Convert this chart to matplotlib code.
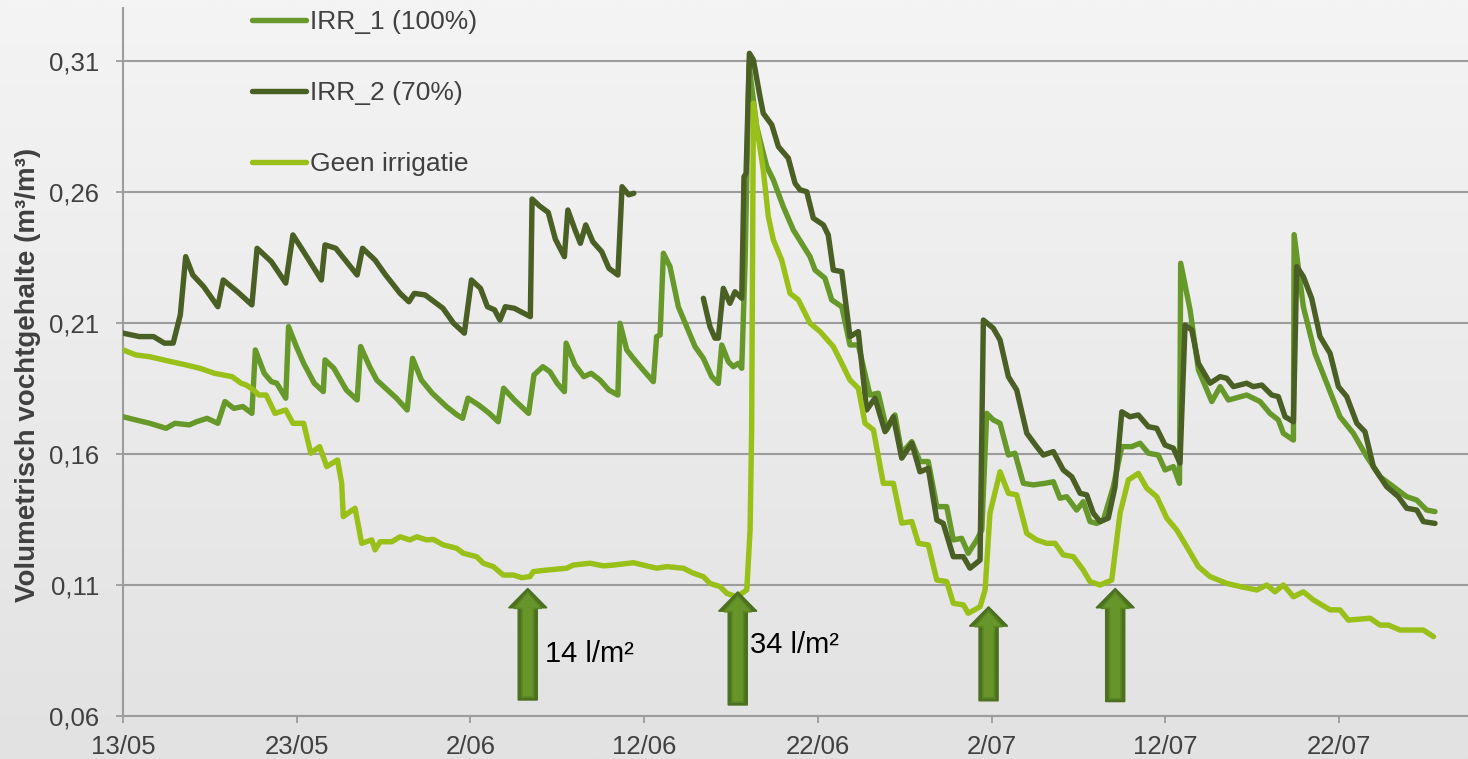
import numpy as np
import matplotlib
matplotlib.use('Agg')
import matplotlib.pyplot as plt
from matplotlib.lines import Line2D
from matplotlib.patches import Polygon

plt.rcParams['font.family'] = ['Liberation Sans', 'DejaVu Sans']

# days since 13/05
tick_days = [0, 10, 20, 30, 40, 50, 60, 70]
tick_labels = ['13/05', '23/05', '2/06', '12/06', '22/06', '2/07', '12/07', '22/07']
y_ticks = [0.06, 0.11, 0.16, 0.21, 0.26, 0.31]

irr1_day = [0.01, 0.73, 1.55, 2.48, 2.99, 3.82, 4.23, 4.84, 5.46, 5.87, 6.38, 6.90, 7.42, 7.62,
            8.13, 8.54, 8.85, 9.37, 9.53, 9.98, 10.40, 11.01, 11.53, 11.63, 12.14, 12.86, 13.48,
            13.68, 14.20, 14.61, 15.12, 15.74, 16.36, 16.67, 17.18, 17.80, 18.62, 19.23, 19.55,
            19.86, 20.47, 21.09, 21.60, 21.91, 22.53, 23.35, 23.66, 24.17, 24.58, 24.99, 25.41,
            25.51, 26.02, 26.53, 26.95, 27.46, 27.97, 28.49, 28.61, 29.00, 29.38, 29.86, 30.53,
            30.72, 30.92, 31.11, 31.49, 31.97, 32.45, 32.93, 33.41, 33.89, 34.27, 34.47, 34.85,
            35.14, 35.42, 35.62, 35.81, 36.04, 36.48, 36.67, 37.06, 37.44, 38.01, 38.59, 39.07,
            39.55, 39.84, 40.41, 40.80, 41.38, 41.85, 42.33, 43.00, 43.48, 43.97, 44.44, 44.83,
            45.41, 45.88, 46.36, 46.85, 47.42, 47.80, 48.28, 48.66, 49.15, 49.44, 49.72, 50.10,
            50.49, 50.97, 51.35, 51.83, 52.41, 53.08, 53.56, 53.94, 54.33, 54.90, 55.28, 55.67,
            56.06, 56.44, 57.01, 57.50, 58.07, 58.55, 59.03, 59.60, 59.99, 60.47, 60.82, 60.89,
            61.43, 61.91, 62.68, 63.16, 63.64, 64.69, 65.46, 66.03, 66.51, 66.80, 67.38, 67.42,
            67.95, 68.62, 69.30, 70.06, 70.83, 71.60, 72.37, 73.13, 73.90, 74.48, 75.05, 75.53]
irr1_val = [0.1742, 0.1730, 0.1717, 0.1698, 0.1717, 0.1711, 0.1723, 0.1736, 0.1717, 0.1800, 0.1774,
            0.1781, 0.1755, 0.1997, 0.1908, 0.1876, 0.1870, 0.1813, 0.2086, 0.2010, 0.1946, 0.1870,
            0.1838, 0.1959, 0.1927, 0.1844, 0.1806, 0.2010, 0.1933, 0.1882, 0.1851, 0.1813, 0.1768,
            0.1965, 0.1882, 0.1832, 0.1781, 0.1749, 0.1736, 0.1813, 0.1787, 0.1755, 0.1723, 0.1851,
            0.1806, 0.1755, 0.1902, 0.1933, 0.1914, 0.1870, 0.1838, 0.2023, 0.1940, 0.1895, 0.1908,
            0.1882, 0.1844, 0.1825, 0.2099, 0.1997, 0.1965, 0.1927, 0.1876, 0.2048, 0.2054, 0.2366,
            0.2315, 0.2162, 0.2086, 0.2010, 0.1965, 0.1895, 0.1869, 0.2016, 0.1952, 0.1933, 0.1946,
            0.1927, 0.2328, 0.3085, 0.2849, 0.2798, 0.2697, 0.2646, 0.2544, 0.2455, 0.2404, 0.2353,
            0.2302, 0.2271, 0.2188, 0.2162, 0.2016, 0.2016, 0.1825, 0.1832, 0.1692, 0.1749, 0.1603,
            0.1647, 0.1571, 0.1571, 0.1399, 0.1399, 0.1272, 0.1278, 0.1221, 0.1272, 0.1310, 0.1755,
            0.1730, 0.1717, 0.1596, 0.1603, 0.1488, 0.1482, 0.1488, 0.1494, 0.1431, 0.1437, 0.1386,
            0.1418, 0.1342, 0.1335, 0.1348, 0.1475, 0.1628, 0.1628, 0.1641, 0.1603, 0.1596, 0.1539,
            0.1552, 0.1488, 0.2328, 0.2150, 0.1921, 0.1800, 0.1857, 0.1806, 0.1825, 0.1800, 0.1755,
            0.1730, 0.1679, 0.1653, 0.2437, 0.2162, 0.1984, 0.1870, 0.1742, 0.1679, 0.1590, 0.1513,
            0.1475, 0.1437, 0.1424, 0.1386, 0.1380]

irr2_day = [0.01, 0.94, 1.76, 2.38, 2.89, 3.30, 3.61, 4.02, 4.64, 5.46, 5.77, 6.59, 7.42, 7.72,
            8.54, 9.37, 9.78, 10.40, 11.42, 11.63, 12.25, 13.48, 13.79, 14.51, 15.12, 15.95, 16.46,
            16.77, 17.39, 18.42, 19.03, 19.65, 20.06, 20.58, 20.98, 21.39, 21.70, 22.01, 22.53,
            23.45, 23.55, 23.97, 24.48, 24.89, 25.41, 25.61, 26.02, 26.33, 26.64, 27.05, 27.56,
            27.97, 28.49, 28.73, 29.11, 29.41, 31.0,
            33.41, 33.79, 34.08, 34.27, 34.56, 34.94, 35.23, 35.62, 35.75, 35.87, 36.06, 36.29,
            36.67, 36.86, 37.35, 37.73, 38.30, 38.69, 38.98, 39.36, 39.74, 40.32, 40.60, 40.89,
            41.38, 41.85, 42.33, 42.81, 43.29, 43.87, 44.35, 44.83, 45.41, 45.88, 46.36, 46.85,
            47.22, 47.80, 48.38, 48.76, 49.34, 49.53, 50.10, 50.49, 50.97, 51.45, 52.03, 52.60,
            52.98, 53.56, 54.13, 54.62, 55.10, 55.48, 55.86, 56.25, 56.72, 57.11, 57.50, 57.97,
            58.45, 59.03, 59.51, 59.99, 60.47, 60.85, 61.14, 61.53, 61.91, 62.58, 63.16, 63.54,
            63.92, 64.69, 65.07, 65.56, 66.13, 66.51, 66.90, 67.38, 67.57, 67.95, 68.43, 68.91,
            69.49, 69.97, 70.45, 71.03, 71.50, 71.98, 72.75, 73.42, 73.90, 74.48, 74.86, 75.53]
irr2_val = [0.2061, 0.2048, 0.2048, 0.2023, 0.2023, 0.2131, 0.2353, 0.2283, 0.2239, 0.2162, 0.2264,
            0.2219, 0.2169, 0.2385, 0.2334, 0.2252, 0.2436, 0.2372, 0.2264, 0.2398, 0.2385, 0.2283,
            0.2385, 0.2340, 0.2283, 0.2213, 0.2181, 0.2213, 0.2207, 0.2156, 0.2099, 0.2061, 0.2264,
            0.2232, 0.2162, 0.2150, 0.2111, 0.2162, 0.2156, 0.2124, 0.2573, 0.2547, 0.2522, 0.2420,
            0.2353, 0.2531, 0.2456, 0.2404, 0.2474, 0.2410, 0.2372, 0.2309, 0.2283, 0.2620, 0.2589,
            0.2595, np.nan,
            0.2194, 0.2086, 0.2042, 0.2042, 0.2232, 0.2175, 0.2219, 0.2194, 0.2658, 0.2671, 0.3129,
            0.3104, 0.2964, 0.2900, 0.2856, 0.2773, 0.2729, 0.2633, 0.2608, 0.2601, 0.2500, 0.2474,
            0.2436, 0.2302, 0.2296, 0.2048, 0.2067, 0.1768, 0.1813, 0.1685, 0.1742, 0.1584, 0.1641,
            0.1532, 0.1545, 0.1348, 0.1335, 0.1208, 0.1208, 0.1164, 0.1195, 0.2111, 0.2080, 0.2035,
            0.1895, 0.1844, 0.1679, 0.1628, 0.1596, 0.1609, 0.1539, 0.1513, 0.1450, 0.1444, 0.1374,
            0.1342, 0.1355, 0.1475, 0.1761, 0.1742, 0.1749, 0.1704, 0.1698, 0.1634, 0.1622, 0.1565,
            0.2092, 0.2073, 0.1946, 0.1870, 0.1895, 0.1889, 0.1857, 0.1870, 0.1857, 0.1863, 0.1825,
            0.1819, 0.1742, 0.1723, 0.2315, 0.2277, 0.2194, 0.2048, 0.1984, 0.1857, 0.1819, 0.1717,
            0.1685, 0.1552, 0.1475, 0.1437, 0.1393, 0.1386, 0.1342, 0.1335]

geen_day = [0.01, 0.73, 1.55, 2.79, 3.61, 4.43, 5.26, 6.28, 6.80, 7.10, 7.52, 7.82, 8.24, 8.75,
            9.37, 9.78, 10.40, 10.81, 11.32, 11.73, 12.35, 12.59, 12.68, 13.36, 13.74, 14.32,
            14.51, 14.80, 15.47, 15.95, 16.52, 16.91, 17.48, 17.86, 18.44, 19.21, 19.59, 20.36,
            20.74, 21.32, 21.89, 22.47, 22.95, 23.43, 23.62, 24.39, 25.54, 25.92, 26.89, 27.65,
            28.23, 29.38, 29.95, 30.72, 31.30, 32.26, 32.83, 33.41, 33.79, 34.37, 34.76, 35.33,
            35.91, 36.10, 36.19, 36.29, 36.48, 36.86, 37.15, 37.44, 37.92, 38.40, 38.88, 39.55,
            40.13, 40.89, 41.28, 41.85, 42.33, 42.72, 43.20, 43.77, 44.35, 44.83, 45.41, 45.79,
            46.36, 46.85, 47.42, 47.80, 48.38, 48.66, 49.34, 49.63, 49.91, 50.49, 50.97, 51.45,
            52.03, 52.60, 53.18, 53.66, 54.13, 54.71, 55.28, 55.67, 56.25, 56.92, 57.40, 57.88,
            58.45, 58.94, 59.51, 60.09, 60.66, 61.24, 61.91, 62.58, 63.54, 64.31, 65.27, 65.85,
            66.32, 66.80, 67.38, 67.95, 68.53, 69.49, 70.06, 70.54, 71.79, 72.37, 72.85, 73.52,
            74.28, 74.86, 75.44]
geen_val = [0.1997, 0.1978, 0.1971, 0.1952, 0.1940, 0.1927, 0.1908, 0.1895, 0.1870, 0.1863, 0.1844,
            0.1825, 0.1825, 0.1755, 0.1768, 0.1717, 0.1717, 0.1603, 0.1628, 0.1552, 0.1577, 0.1488,
            0.1361, 0.1393, 0.1259, 0.1272, 0.1234, 0.1265, 0.1265, 0.1284, 0.1272, 0.1284, 0.1272,
            0.1274, 0.1253, 0.1240, 0.1221, 0.1208, 0.1183, 0.1170, 0.1138, 0.1138, 0.1128, 0.1132,
            0.1151, 0.1157, 0.1164, 0.1176, 0.1183, 0.1173, 0.1176, 0.1185, 0.1176, 0.1164, 0.1170,
            0.1164, 0.1145, 0.1132, 0.1106, 0.1094, 0.1068, 0.1055, 0.1081, 0.1310, 0.1692, 0.2939,
            0.2849, 0.2684, 0.2506, 0.2417, 0.2340, 0.2213, 0.2188, 0.2099, 0.2067, 0.2010, 0.1959,
            0.1882, 0.1851, 0.1717, 0.1692, 0.1488, 0.1488, 0.1336, 0.1342, 0.1259, 0.1253, 0.1119,
            0.1113, 0.1030, 0.1024, 0.0992, 0.1017, 0.1081, 0.1374, 0.1532, 0.1450, 0.1444, 0.1297,
            0.1272, 0.1259, 0.1259, 0.1215, 0.1208, 0.1157, 0.1113, 0.1100, 0.1119, 0.1374, 0.1501,
            0.1526, 0.1469, 0.1437, 0.1355, 0.1310, 0.1246, 0.1170, 0.1132, 0.1106, 0.1094, 0.1081,
            0.1100, 0.1074, 0.1100, 0.1055, 0.1074, 0.1043, 0.1005, 0.1005, 0.0966, 0.0973, 0.0947,
            0.0947, 0.0928, 0.0928, 0.0928, 0.0903]

# irrigation arrows: day, tip value, bottom value
arrow_day = [23.30, 35.39, 49.83, 57.12]
arrow_top = [0.1087, 0.1074, 0.1017, 0.1087]
arrow_bottom = [0.0661, 0.0642, 0.0658, 0.0655]
note_text = ['14 l/m²', '34 l/m²']
note_day = [24.30, 36.12]
note_val = [0.0807, 0.0839]

c_irr1 = '#66992a'
c_irr2 = '#4a5f24'
c_geen = '#99bf19'
grey = '#9c9c9c'
txt = '#404040'

fig = plt.figure(figsize=(14.68, 7.59), dpi=100)

# gradient background
bg = fig.add_axes([0, 0, 1, 1], zorder=-1)
grad = np.linspace(0, 1, 256).reshape(-1, 1)
bg.imshow(grad, aspect='auto', cmap=matplotlib.colors.LinearSegmentedColormap.from_list(
    'bg', ['#f4f4f4', '#ebebeb', '#e2e2e2']), extent=[0, 1, 0, 1], origin='upper')
bg.axis('off')

ax = fig.add_axes([123/1468, 1 - 716/759, 1 - 123/1468, (716 - 8)/759])
ax.set_facecolor('none')

lw = 3.9
ax.plot(irr1_day, irr1_val, color=c_irr1, lw=lw, solid_capstyle='round', solid_joinstyle='round', zorder=3)
ax.plot(irr2_day, irr2_val, color=c_irr2, lw=lw, solid_capstyle='round', solid_joinstyle='round', zorder=4)
ax.plot(geen_day, geen_val, color=c_geen, lw=lw, solid_capstyle='round', solid_joinstyle='round', zorder=5)

def arrow_poly(xc, top, bot, sw, hw, hl):
    return [(xc - sw, bot), (xc - sw, top - hl), (xc - hw, top - hl), (xc, top),
            (xc + hw, top - hl), (xc + sw, top - hl), (xc + sw, bot)]

for xd, t, b in zip(arrow_day, arrow_top, arrow_bottom):
    ax.add_patch(Polygon(arrow_poly(xd, t, b, 0.55, 1.1, 0.0074), closed=True,
                         facecolor='#4c701f', edgecolor='#4c701f', lw=1, zorder=6))
    ax.add_patch(Polygon(arrow_poly(xd, t - 0.0016, b + 0.0011, 0.33, 0.8, 0.0060), closed=True,
                         facecolor='#66962a', edgecolor='#5a8724', lw=1.2, zorder=7))

for s, xd, yv in zip(note_text, note_day, note_val):
    ax.text(xd, yv, s, fontsize=21, color='black', va='baseline', ha='left', zorder=8)

ax.set_xlim(0, 77.43)
ax.set_ylim(0.06, 0.3302)
ax.set_xticks(tick_days)
ax.set_xticklabels(tick_labels)
ax.set_yticks(y_ticks)
ax.set_yticklabels([('%.2f' % v).replace('.', ',') for v in y_ticks])
ax.grid(axis='y', color=grey, lw=1.5)
ax.set_axisbelow(True)
for side in ['top', 'right']:
    ax.spines[side].set_visible(False)
for side in ['left', 'bottom']:
    ax.spines[side].set_color(grey)
    ax.spines[side].set_linewidth(1.5)
ax.tick_params(axis='both', colors=grey, width=1.3, length=5, labelsize=18.5, labelcolor=txt)
ax.tick_params(axis='y', pad=12)
ax.tick_params(axis='x', pad=9)

fig.text(28/1468, 1 - 375/759, 'Volumetrisch vochtgehalte (m³/m³)', rotation=90,
         ha='center', va='center', fontsize=20, fontweight='bold', color=txt)

handles = [Line2D([], [], color=c, lw=lw, solid_capstyle='round') for c in (c_irr1, c_irr2, c_geen)]
fig.legend(handles, ['IRR_1 (100%)', 'IRR_2 (70%)', 'Geen irrigatie'], loc='upper left',
           bbox_to_anchor=(252/1468, 1 - 10/759), frameon=False, fontsize=19, labelcolor=txt,
           handlelength=2.05, handletextpad=0.15, labelspacing=1.79, borderpad=0, borderaxespad=0)

fig.savefig('out.png', dpi=100)
